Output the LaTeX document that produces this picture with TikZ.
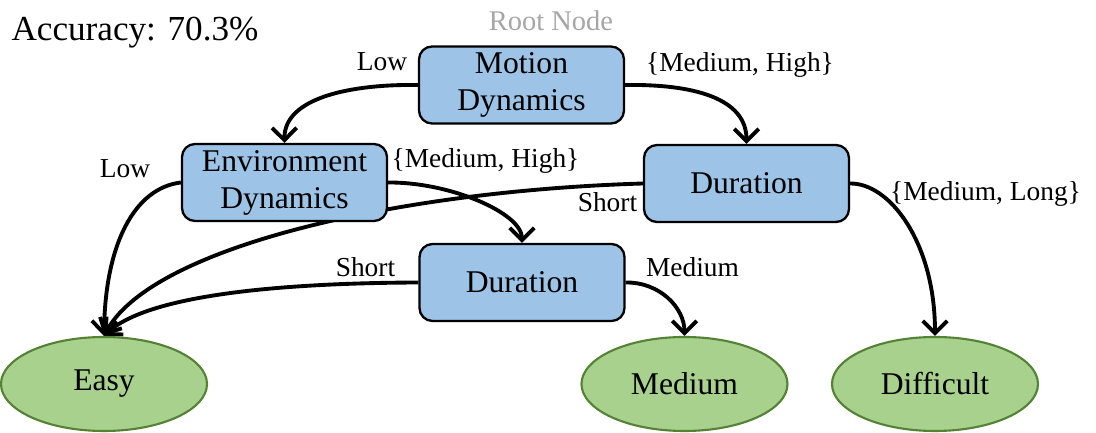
\documentclass[tikz,border=0pt]{standalone}
\usepackage{fontspec}
\setmainfont{Liberation Serif}
\usepackage{tikz}
\usetikzlibrary{arrows.meta,shapes.geometric,backgrounds}
\definecolor{boxblue}{RGB}{157,195,230}
\definecolor{leafgreen}{RGB}{169,209,142}
\definecolor{leafedge}{RGB}{84,130,53}
\tikzset{
	splitbox/.style={draw=black, fill=boxblue, line width=0.65pt, rounded corners=0.13cm, minimum width=2.05cm, minimum height=0.77cm, inner sep=0pt, align=center, font=\fontsize{9}{10.5}\selectfont},
	leaf/.style={ellipse, draw=leafedge, fill=leafgreen, line width=0.6pt, minimum width=2.06cm, minimum height=0.94cm, inner sep=0pt, font=\fontsize{9}{10.5}\selectfont},
	branch/.style={anchor=base, inner sep=0pt, font=\fontsize{7.8}{9}\selectfont},
	link/.style={line width=1.1pt, -{Straight Barb[length=3.5pt,width=7pt]}}
}
\begin{document}
\begin{tikzpicture}
			%%%%% START %%%%%
			\useasboundingbox (0, 0) rectangle (10.96, 4.33);
			
			\node[anchor=base, inner sep=0pt, font=\fontsize{10}{12}\selectfont] (acc) at (1.35, 3.92) {Accuracy: 70.3\%};
			\node[anchor=base, inner sep=0pt, text=black!35, font=\fontsize{8.1}{10}\selectfont] (rootlabel) at (5.51, 4.02) {Root Node};
			
			\node[splitbox] (motion) at (5.215, 3.48) {Motion\\Dynamics};
			\node[splitbox] (envdyn) at (2.845, 2.505) {Environment\\Dynamics};
			\node[splitbox] (durA) at (7.465, 2.495) {Duration};
			\node[splitbox] (durB) at (5.22, 1.505) {Duration};
			
			\node[leaf] (easy) at (1.04, 0.49) {Easy};
			\node[leaf] (medium) at (6.845, 0.49) {Medium};
			\node[leaf] (difficult) at (9.35, 0.49) {Difficult};
			
			\node[branch] (lowA) at (3.82, 3.62) {Low};
			\node[branch] (mhA) at (7.40, 3.61) {\{Medium, High\}};
			\node[branch] (lowB) at (1.25, 2.55) {Low};
			\node[branch] (mhB) at (4.855, 2.65) {\{Medium, High\}};
			\node[branch] (shortA) at (6.075, 2.21) {Short};
			\node[branch] (mlA) at (9.855, 2.32) {\{Medium, Long\}};
			\node[branch] (shortB) at (3.655, 1.56) {Short};
			\node[branch] (medB) at (6.925, 1.56) {Medium};
			
			\begin{pgfonlayer}{background}
			\draw[link] (motion.west) .. controls (3.5, 3.49) and (2.84, 3.35) .. (envdyn.north);
			\draw[link] (motion.east) .. controls (6.93, 3.49) and (7.465, 3.35) .. (durA.north);
			
			\draw[link] (envdyn.west) .. controls (1.35, 2.45) and (1.05, 1.9) .. (easy.north);
			\draw[link] (envdyn.east) .. controls (4.5, 2.51) and (5.22, 2.2) .. (durB.north);
			
			\draw[link] (durA.west) .. controls (3.94, 2.42) and (1.50, 1.85) .. (easy.north);
			\draw[link] (durA.east) .. controls (8.9, 2.5) and (9.35, 1.9) .. (difficult.north);
			
			\draw[link] (durB.west) .. controls (2.8, 1.5) and (1.47, 1.38) .. (easy.north);
			\draw[link] (durB.east) .. controls (6.6, 1.51) and (6.845, 1.25) .. (medium.north);
			\end{pgfonlayer}
			
			%%%%% END %%%%%
		\end{tikzpicture}
\end{document}
